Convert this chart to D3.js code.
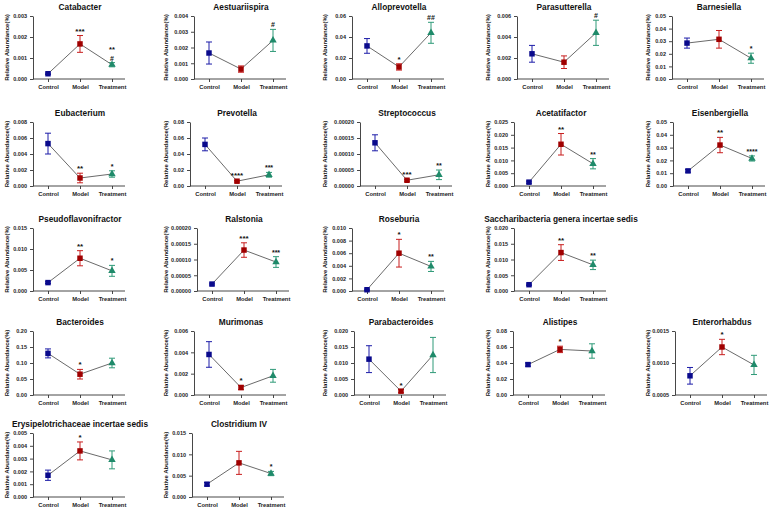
<!DOCTYPE html>
<html><head><meta charset="utf-8">
<script src="https://cdn.jsdelivr.net/npm/d3@7"></script>
<style>
body{margin:0;background:#fff;}
svg text{font-family:"Liberation Sans",Arial,sans-serif;font-weight:bold;}
</style></head>
<body>
<svg id="c" width="779" height="520"></svg>
<script>
// ---------- DATA ----------
const groups = ["Control","Model","Treatment"];
const titles = ["Catabacter","Aestuariispira","Alloprevotella","Parasutterella","Barnesiella",
 "Eubacterium","Prevotella","Streptococcus","Acetatifactor","Eisenbergiella",
 "Pseudoflavonifractor","Ralstonia","Roseburia","Saccharibacteria genera incertae sedis",
 "Bacteroides","Murimonas","Parabacteroides","Alistipes","Enterorhabdus",
 "Erysipelotrichaceae incertae sedis","Clostridium IV"];
const controlMean = [0.00025,0.00165,0.0315,0.0024,0.0285, 0.0053,0.052,0.000135,0.0015,0.0118, 0.002,0.000022,0.0002,0.002, 0.13,0.0038,0.0112,0.038,0.0008, 0.0017,0.003];
const controlErr  = [0.00003,0.0007,0.007,0.0008,0.004, 0.0013,0.008,0.000025,0.0004,0.001, 0.0002,0.000003,0.0001,0.0002, 0.014,0.0012,0.0042,0.002,0.00013, 0.0004,0.0004];
const modelMean   = [0.00167,0.00063,0.0115,0.0016,0.0315, 0.001,0.006,0.000018,0.0163,0.032, 0.0078,0.00013,0.006,0.0122, 0.065,0.0007,0.0012,0.057,0.00125, 0.0036,0.008];
const modelErr    = [0.0004,0.0002,0.003,0.0006,0.007, 0.0006,0.001,0.000003,0.0042,0.006, 0.0018,0.000023,0.0022,0.0025, 0.015,0.0002,0.0005,0.004,0.00012, 0.0007,0.0027];
const treatMean   = [0.00068,0.00245,0.044,0.0044,0.0165, 0.0015,0.014,0.000035,0.0087,0.0215, 0.0048,0.000092,0.0039,0.0083, 0.1,0.0018,0.0125,0.055,0.00097, 0.0029,0.0055];
const treatErr    = [0.0001,0.0007,0.01,0.0012,0.004, 0.0004,0.003,0.000015,0.002,0.002, 0.0013,0.000017,0.0008,0.0015, 0.015,0.0006,0.0055,0.009,0.00015, 0.0007,0.0005];
const yMin = [0,0,0,0,0, 0,0,0,0,0, 0,0,0,0, 0,0,0,0,0.0005, 0,0];
const yMax = [0.003,0.004,0.06,0.006,0.05, 0.008,0.08,0.0002,0.025,0.05, 0.015,0.0002,0.01,0.02, 0.2,0.006,0.02,0.08,0.0015, 0.005,0.015];
const yStep = [0.001,0.001,0.02,0.002,0.01, 0.002,0.02,0.00005,0.005,0.01, 0.005,0.00005,0.002,0.005, 0.05,0.002,0.005,0.02,0.0005, 0.001,0.005];
const yDecimals = [3,3,2,3,2, 3,2,5,3,2, 3,5,3,3, 2,3,3,2,4, 3,3];
const modelMarks = ["***","","*","","", "**","****","***","**","**", "**","***","*","**", "*","*","*","*","*", "*",""];
const treatMarks = [["**","#"],["#"],["##"],["#"],["*"], ["*"],["***"],["**"],["**"],["****"], ["*"],["***"],["**"],["**"], [],[],[],[],[], [],["*"]];

// ---------- LAYOUT ----------
const panelCol = [0,1,2,3,4, 0,1,2,3,4, 0,1,2,3, 0,1,2,3,4, 0,1];
const panelRow = [0,0,0,0,0, 1,1,1,1,1, 2,2,2,2, 3,3,3,3,3, 4,4];
const axisXs = [33,194,352,517,672, 33,190,360,514,673, 33,197,352,514, 33,194,354,513,675, 33,192];
const labelXs = [7,166,325,488,648];
const rowTop = [16,122,228,331,433];
const rowBottom = [79,186,291,395,497];
const colors = {Control:"#0a0a8c", Model:"#a00000", Treatment:"#1f8a6a"};
const errColors = {Control:"#1c1ca8", Model:"#c81e1e", Treatment:"#2f9a78"};

const svg = d3.select("#c");

titles.forEach((t,i)=>{
  const ax = axisXs[i], top = rowTop[panelRow[i]], bot = rowBottom[panelRow[i]];
  const g = svg.append("g");
  const y = d3.scaleLinear().domain([yMin[i], yMax[i]]).range([bot, top]);
  const x = d3.scalePoint().domain(groups).range([ax+15, ax+79]);
  const ticks = d3.range(yMin[i], yMax[i] + yStep[i]/2, yStep[i]);
  const fmt = d3.format("."+yDecimals[i]+"f");
  // y axis
  const ya = g.append("g").attr("transform",`translate(${ax},0)`)
    .call(d3.axisLeft(y).tickValues(ticks).tickFormat(fmt).tickSize(3).tickSizeOuter(0));
  ya.selectAll("text").attr("font-size",5.5).attr("fill","#222");
  ya.selectAll("line,path").attr("stroke","#333").attr("stroke-width",0.9);
  // x axis
  const xa = g.append("g").attr("transform",`translate(0,${bot})`)
    .call(d3.axisBottom(x).tickSize(3).tickSizeOuter(0));
  xa.select(".domain").remove();
  xa.append("line").attr("x1",ax).attr("x2",ax+92).attr("stroke","#333").attr("stroke-width",0.9);
  xa.selectAll("text").attr("font-size",5.8).attr("fill","#222").attr("dy","0.75em");
  xa.selectAll("line").attr("stroke","#333").attr("stroke-width",0.9);
  // title
  g.append("text").attr("x",ax+47).attr("y",top-6).attr("text-anchor","middle")
    .attr("font-size",8.3).attr("fill","#111").text(t);
  // y label
  g.append("text").attr("transform",`translate(${labelXs[panelCol[i]]},${(top+bot)/2}) rotate(-90)`)
    .attr("text-anchor","middle").attr("dy","0.35em").attr("font-size",6).attr("fill","#111")
    .text("Relative Abundance(%)");
  const pts = [
    {k:"Control", m:controlMean[i], e:controlErr[i]},
    {k:"Model", m:modelMean[i], e:modelErr[i]},
    {k:"Treatment", m:treatMean[i], e:treatErr[i]}];
  // connecting line
  g.append("path").attr("d", d3.line().x(d=>x(d.k)).y(d=>y(d.m))(pts))
    .attr("fill","none").attr("stroke","#444").attr("stroke-width",0.8);
  // error bars
  pts.forEach(d=>{
    const cx = x(d.k), y1 = y(d.m + d.e), y0 = y(Math.max(yMin[i], d.m - d.e));
    const c = errColors[d.k];
    g.append("line").attr("x1",cx).attr("x2",cx).attr("y1",y1).attr("y2",y0).attr("stroke",c).attr("stroke-width",1);
    g.append("line").attr("x1",cx-3).attr("x2",cx+3).attr("y1",y1).attr("y2",y1).attr("stroke",c).attr("stroke-width",1);
    g.append("line").attr("x1",cx-3).attr("x2",cx+3).attr("y1",y0).attr("y2",y0).attr("stroke",c).attr("stroke-width",1);
  });
  // markers
  pts.forEach(d=>{
    const sym = d.k==="Treatment" ? d3.symbolTriangle : d3.symbolSquare;
    const size = d.k==="Treatment" ? 24 : 30;
    g.append("path").attr("d", d3.symbol().type(sym).size(size)())
      .attr("transform",`translate(${x(d.k)},${y(d.m)})`).attr("fill",colors[d.k]);
  });
  // significance marks
  if (modelMarks[i]) {
    g.append("text").attr("x",x("Model")).attr("y",y(modelMean[i]+modelErr[i])-2)
      .attr("text-anchor","middle").attr("font-size",8).attr("fill","#111").text(modelMarks[i]);
  }
  const tm = treatMarks[i];
  tm.slice().reverse().forEach((s,j)=>{
    g.append("text").attr("x",x("Treatment")).attr("y",y(treatMean[i]+treatErr[i])-2-j*9)
      .attr("text-anchor","middle").attr("font-size",j>0?7.5:7).attr("fill","#111").text(s);
  });
});
</script>
</body></html>
